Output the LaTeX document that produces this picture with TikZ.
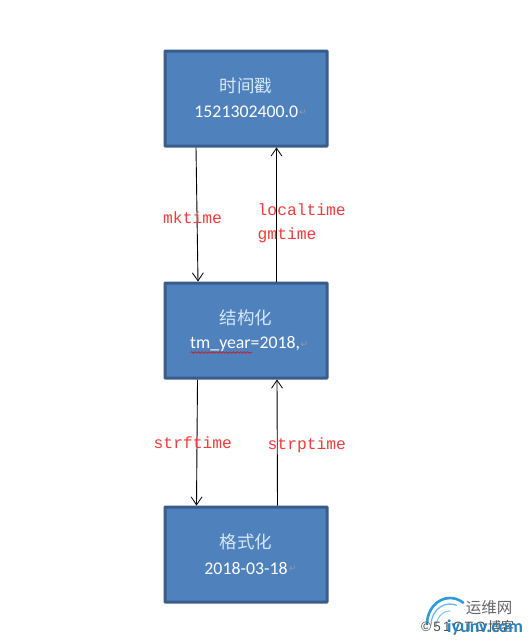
\documentclass[tikz,border=0pt]{standalone}
\usepackage{fontspec}
\setmainfont{Carlito}
\setmonofont{Liberation Mono}
\setsansfont{Liberation Sans}
\newfontfamily\cjkfont{Noto Sans CJK SC}
\newfontfamily\symfont{DejaVu Sans}
\usetikzlibrary{decorations.pathmorphing,calc,arrows.meta}
\definecolor{boxfill}{HTML}{4F81BD}
\definecolor{boxline}{HTML}{385D8A}
\definecolor{labelred}{HTML}{F03C3C}
\definecolor{cjktext}{HTML}{D6E8F8}
\definecolor{logoblue}{HTML}{2E9BE0}
\tikzset{
  timebox/.style={draw=boxline,line width=3pt,fill=boxfill,minimum width=162pt,minimum height=95pt,inner sep=0pt,rounded corners=0.5pt},
  title/.style={font=\cjkfont\fontsize{17.5}{20}\selectfont\color{cjktext},inner sep=0pt},
  value/.style={font=\fontsize{17.8}{20}\selectfont\color{white},inner sep=0pt},
  conn/.style={draw=black,line width=0.9pt,-{Straight Barb[length=8pt,width=11pt,line width=0.8pt]}},
  funclabel/.style={font=\ttfamily\fontsize{16.3}{20}\selectfont\color{labelred},inner sep=0pt},
  retmark/.style={font=\symfont\fontsize{9}{10}\selectfont\color{gray!80},inner sep=0pt},
  logotext/.style={inner sep=0pt}
}
\begin{document}
\begin{tikzpicture}[x=1pt,y=-1pt]
\useasboundingbox[fill=white] (0,0) rectangle (528,643);
% boxes
\node[timebox] (ts) at (246,98.5) {};
\node[timebox] (st) at (246,330.5) {};
\node[timebox] (fm) at (246,554.5) {};
% box texts
\node[title] (tstitle) at (246,86) {时间戳};
\node[value] (tsvalue) at (246.3,112) {1521302400.0};
\node[retmark] (tsret) at (303,112.5) {↵};
\node[title] (sttitle) at (246,318) {结构化};
\node[value,anchor=west] (stvalue) at (190,344) {tm\_year=2018,};
\node[retmark] (stret) at (304.5,345) {↵};
\node[title] (fmtitle) at (246,542) {格式化};
\node[value] (fmvalue) at (246,568) {2018-03-18};
\node[retmark] (fmret) at (293,568.5) {↵};
\coordinate (wavyA) at (190.5,352.5);
\coordinate (wavyB) at (252,352.5);
\draw[red!90!black,line width=0.5pt,decorate,decoration={snake,amplitude=0.8pt,segment length=3.5pt}] (wavyA) -- (wavyB);
% connectors
\draw[conn] ([xshift=-50pt]ts.south) -- ([xshift=-48pt]st.north);
\draw[conn] ([xshift=30.5pt]st.north) -- ([xshift=30.5pt]ts.south);
\draw[conn] ([xshift=-48.5pt]st.south) -- ([xshift=-49.5pt]fm.north);
\draw[conn] ([xshift=31.5pt]fm.north) -- ([xshift=31pt]st.south);
% labels
\node[funclabel,anchor=west] (mk) at (163,218) {mktime};
\node[funclabel,anchor=west] (lt) at (257.5,210) {localtime};
\node[funclabel,anchor=west] (gm) at (257.5,235.5) {gmtime};
\node[funclabel,anchor=west] (sf) at (153.5,443) {strftime};
\node[funclabel,anchor=west] (sp) at (267.5,445) {strptime};
% watermark
\draw[logoblue,line width=2.6pt,line cap=round] (427,624) arc[start angle=180,end angle=55,x radius=23pt,y radius=26pt];
\draw[logoblue!70,line width=1.3pt,line cap=round] (431,625) arc[start angle=180,end angle=70,x radius=19pt,y radius=21pt];
\draw[logoblue!60,line width=1pt,line cap=round] (436,627) arc[start angle=180,end angle=90,x radius=14pt,y radius=16pt];
\node[logotext,font=\cjkfont\fontsize{15.5}{17}\selectfont\color{gray!80!black}] (wm1) at (489,608) {运维网};
\node[logotext,font=\sffamily\fontsize{13.5}{17}\selectfont\color{black!70},anchor=west] (wm2) at (421,626.5) {©\,5\,1\,C\,T\,O\,{\cjkfont\fontsize{13}{17}\selectfont 博客}};
\node[logotext,font=\bfseries\fontsize{18}{18}\selectfont\color{logoblue!85!black},anchor=west] (wm3) at (447,627.5) {iyunv.com};
\end{tikzpicture}
\end{document}
